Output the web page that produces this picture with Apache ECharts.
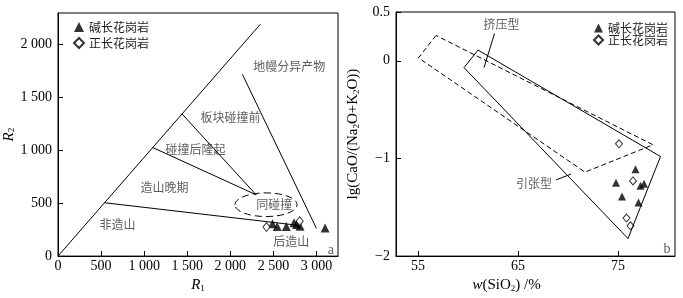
<!DOCTYPE html>
<html>
<head>
<meta charset="utf-8">
<script src="https://cdn.jsdelivr.net/npm/echarts@6/dist/echarts.min.js"></script>
<style>
html, body { margin: 0; padding: 0; background: #fff; }
#chart { width: 683px; height: 298px; }
</style>
</head>
<body>
<div id="chart"></div>
<script>
var SERIF = 'Liberation Serif';
var CJK = 'Noto Sans CJK SC';

// 图a  R1-R2 判别图
var r1Ticks = [0, 500, 1000, 1500, 2000, 2500, 3000];
var r2Ticks = [0, 500, 1000, 1500, 2000];
var mainLine = [[0, 0], [2350, 2195]];
var anorogenicLine = [[540, 505], [2800, 290]];
var lateOrogenicLine = [[1100, 1027], [2300, 580]];
var preCollisionLine = [[1440, 1345], [2300, 580]];
var mantleLine = [[2140, 1720], [3000, 262]];
var synCollision = [[2415, 486, 360, 112]]; // 中心x, 中心y, 半径x, 半径y
var alkaliA = [[2490, 305], [2545, 280], [2650, 280], [2740, 315], [2770, 300], [2810, 282], [3100, 265]];
var syenoA = [[2420, 275], [2805, 330]];
var labelsA = [
  [2685, 1797, '地幔分异产物'],
  [2001, 1309, '板块碰撞前'],
  [1596, 1005, '碰撞后隆起'],
  [1236, 645, '造山晚期'],
  [2511, 488, '同碰撞'],
  [692, 295, '非造山'],
  [2708, 138, '后造山']
];

// 图b  lg(CaO/(Na2O+K2O)) - SiO2
var sio2Ticks = [55, 65, 75];
var lgTicks = [-2, -1, 0, 0.5];
var extPolygon = [[61.0, 0.11], [59.6, -0.07], [76.0, -1.82], [79.25, -0.98], [61.0, 0.11]];
var compPolygon = [[56.8, 0.26], [55.05, 0.03], [71.7, -1.14], [78.5, -0.86], [56.8, 0.26]];
var compLeader = [[62.65, 0.28], [61.6, -0.07]];
var extLeader = [[68.8, -1.22], [70.3, -1.16]];
var alkaliB = [[76.75, -1.11], [74.8, -1.25], [75.4, -1.39], [77.25, -1.28], [77.6, -1.26], [77.05, -1.45]];
var syenoB = [[76.5, -1.23], [75.85, -1.61], [76.25, -1.69], [75.1, -0.85]];
var labelsB = [
  [63.35, 0.368, '挤压型'],
  [66.6, -1.254, '引张型']
];

function thousands(v) {
  if (v >= 1000) {
    var r = String(v % 1000);
    while (r.length < 3) r = '0' + r;
    return Math.floor(v / 1000) + ' ' + r;
  }
  return String(v);
}
function minus(v) {
  return v < 0 ? '\u2212' + Math.abs(v) : String(v);
}

function axis(grid, min, max, ticks, fmt) {
  return {
    type: 'value', gridIndex: grid, min: min, max: max,
    axisLine: { show: true, onZero: false, lineStyle: { color: '#000', width: 1 } },
    axisTick: { show: true, inside: true, length: 5, customValues: ticks, lineStyle: { color: '#000' } },
    axisLabel: { customValues: ticks, formatter: fmt, color: '#000', fontFamily: SERIF, fontSize: 14, margin: 5 },
    splitLine: { show: false },
    nameTextStyle: { color: '#000', fontFamily: SERIF, fontSize: 15,
      rich: {
        i: { fontStyle: 'italic', fontFamily: SERIF, fontSize: 15, color: '#000' },
        s: { fontSize: 9, fontFamily: SERIF, verticalAlign: 'bottom', lineHeight: 9, color: '#000' }
      }
    }
  };
}

function seg(data, idx, dashed) {
  return {
    type: 'line', xAxisIndex: idx, yAxisIndex: idx, data: data, symbol: 'none', silent: true,
    lineStyle: { color: '#000', width: 1, type: dashed ? [5, 3] : 'solid' }
  };
}

function textSeries(data, idx, font, size) {
  return {
    type: 'scatter', xAxisIndex: idx, yAxisIndex: idx, data: data, symbolSize: 0, silent: true,
    label: { show: true, position: 'inside', formatter: function (p) { return p.data[2]; },
      fontFamily: font, fontSize: size, color: '#333' }
  };
}

var xa = axis(0, 0, 3250, r1Ticks, thousands);
xa.axisLabel.margin = 3;
xa.name = '{i|R}{s|1}';
xa.nameLocation = 'middle';
xa.nameGap = 19;

var ya = axis(0, 0, 2300, r2Ticks, thousands);
ya.axisLabel.margin = 6;
ya.name = '{i|R}{s|2}';
ya.nameLocation = 'middle';
ya.nameGap = 40;

var xb = axis(1, 52.8, 80.7, sio2Ticks, String);
xb.axisLabel.margin = 3;
xb.name = '{i|w}(SiO{s|2}) /%';
xb.nameLocation = 'middle';
xb.nameGap = 18;
xb.nameTextStyle.padding = [0, 58, 0, 0];

var yb = axis(1, -2, 0.5, lgTicks, minus);
yb.axisLabel.margin = 6;
yb.name = 'lg(CaO/(Na{s|2}O+K{s|2}O))';
yb.nameLocation = 'middle';
yb.nameGap = 35;

var legendText = { fontFamily: CJK, fontSize: 12, color: '#222' };

var chart = echarts.init(document.getElementById('chart'));
chart.setOption({
  animation: false,
  backgroundColor: '#fff',
  grid: [
    { left: 58, right: 345, top: 13, bottom: 36, show: true, borderColor: '#000', borderWidth: 1 },
    { left: 396, right: 8, top: 12, bottom: 36, show: true, borderColor: '#000', borderWidth: 1 }
  ],
  xAxis: [xa, xb],
  yAxis: [ya, yb],
  legend: [
    { left: 68, top: 16, orient: 'vertical', itemWidth: 10, itemHeight: 10, itemGap: 4,
      data: ['碱长花岗岩', '正长花岗岩'], textStyle: legendText, selectedMode: false },
    { right: 10, top: 17, orient: 'vertical', itemWidth: 9, itemHeight: 9, itemGap: 0,
      data: ['碱长花岗岩', '正长花岗岩'], textStyle: legendText, selectedMode: false }
  ],
  series: [
    seg(mainLine, 0), seg(anorogenicLine, 0), seg(lateOrogenicLine, 0),
    seg(preCollisionLine, 0), seg(mantleLine, 0),
    {
      type: 'custom', xAxisIndex: 0, yAxisIndex: 0, data: synCollision, silent: true,
      renderItem: function (params, api) {
        var c = api.coord([api.value(0), api.value(1)]);
        var s = api.size([api.value(2), api.value(3)]);
        return { type: 'ellipse', shape: { cx: c[0], cy: c[1], rx: s[0], ry: s[1] },
          style: { fill: null, stroke: '#000', lineWidth: 1, lineDash: [7, 4] } };
      }
    },
    { type: 'scatter', name: '碱长花岗岩', xAxisIndex: 0, yAxisIndex: 0, data: alkaliA,
      symbol: 'triangle', symbolSize: 9, itemStyle: { color: '#000' } },
    { type: 'scatter', name: '正长花岗岩', xAxisIndex: 0, yAxisIndex: 0, data: syenoA,
      symbol: 'diamond', symbolSize: [7, 9], itemStyle: { color: '#fff', borderColor: '#000', borderWidth: 1 } },
    textSeries(labelsA, 0, CJK, 12),
    textSeries([[3168, 55, 'a']], 0, SERIF, 14),

    seg(extPolygon, 1), seg(compPolygon, 1, true), seg(compLeader, 1), seg(extLeader, 1),
    { type: 'scatter', name: '碱长花岗岩', xAxisIndex: 1, yAxisIndex: 1, data: alkaliB,
      symbol: 'triangle', symbolSize: 8, itemStyle: { color: '#000' } },
    { type: 'scatter', name: '正长花岗岩', xAxisIndex: 1, yAxisIndex: 1, data: syenoB,
      symbol: 'diamond', symbolSize: [7, 8], itemStyle: { color: '#fff', borderColor: '#000', borderWidth: 1 } },
    textSeries(labelsB, 1, CJK, 12),
    textSeries([[79.9, -1.93, 'b']], 1, SERIF, 14)
  ]
});
</script>
</body>
</html>
